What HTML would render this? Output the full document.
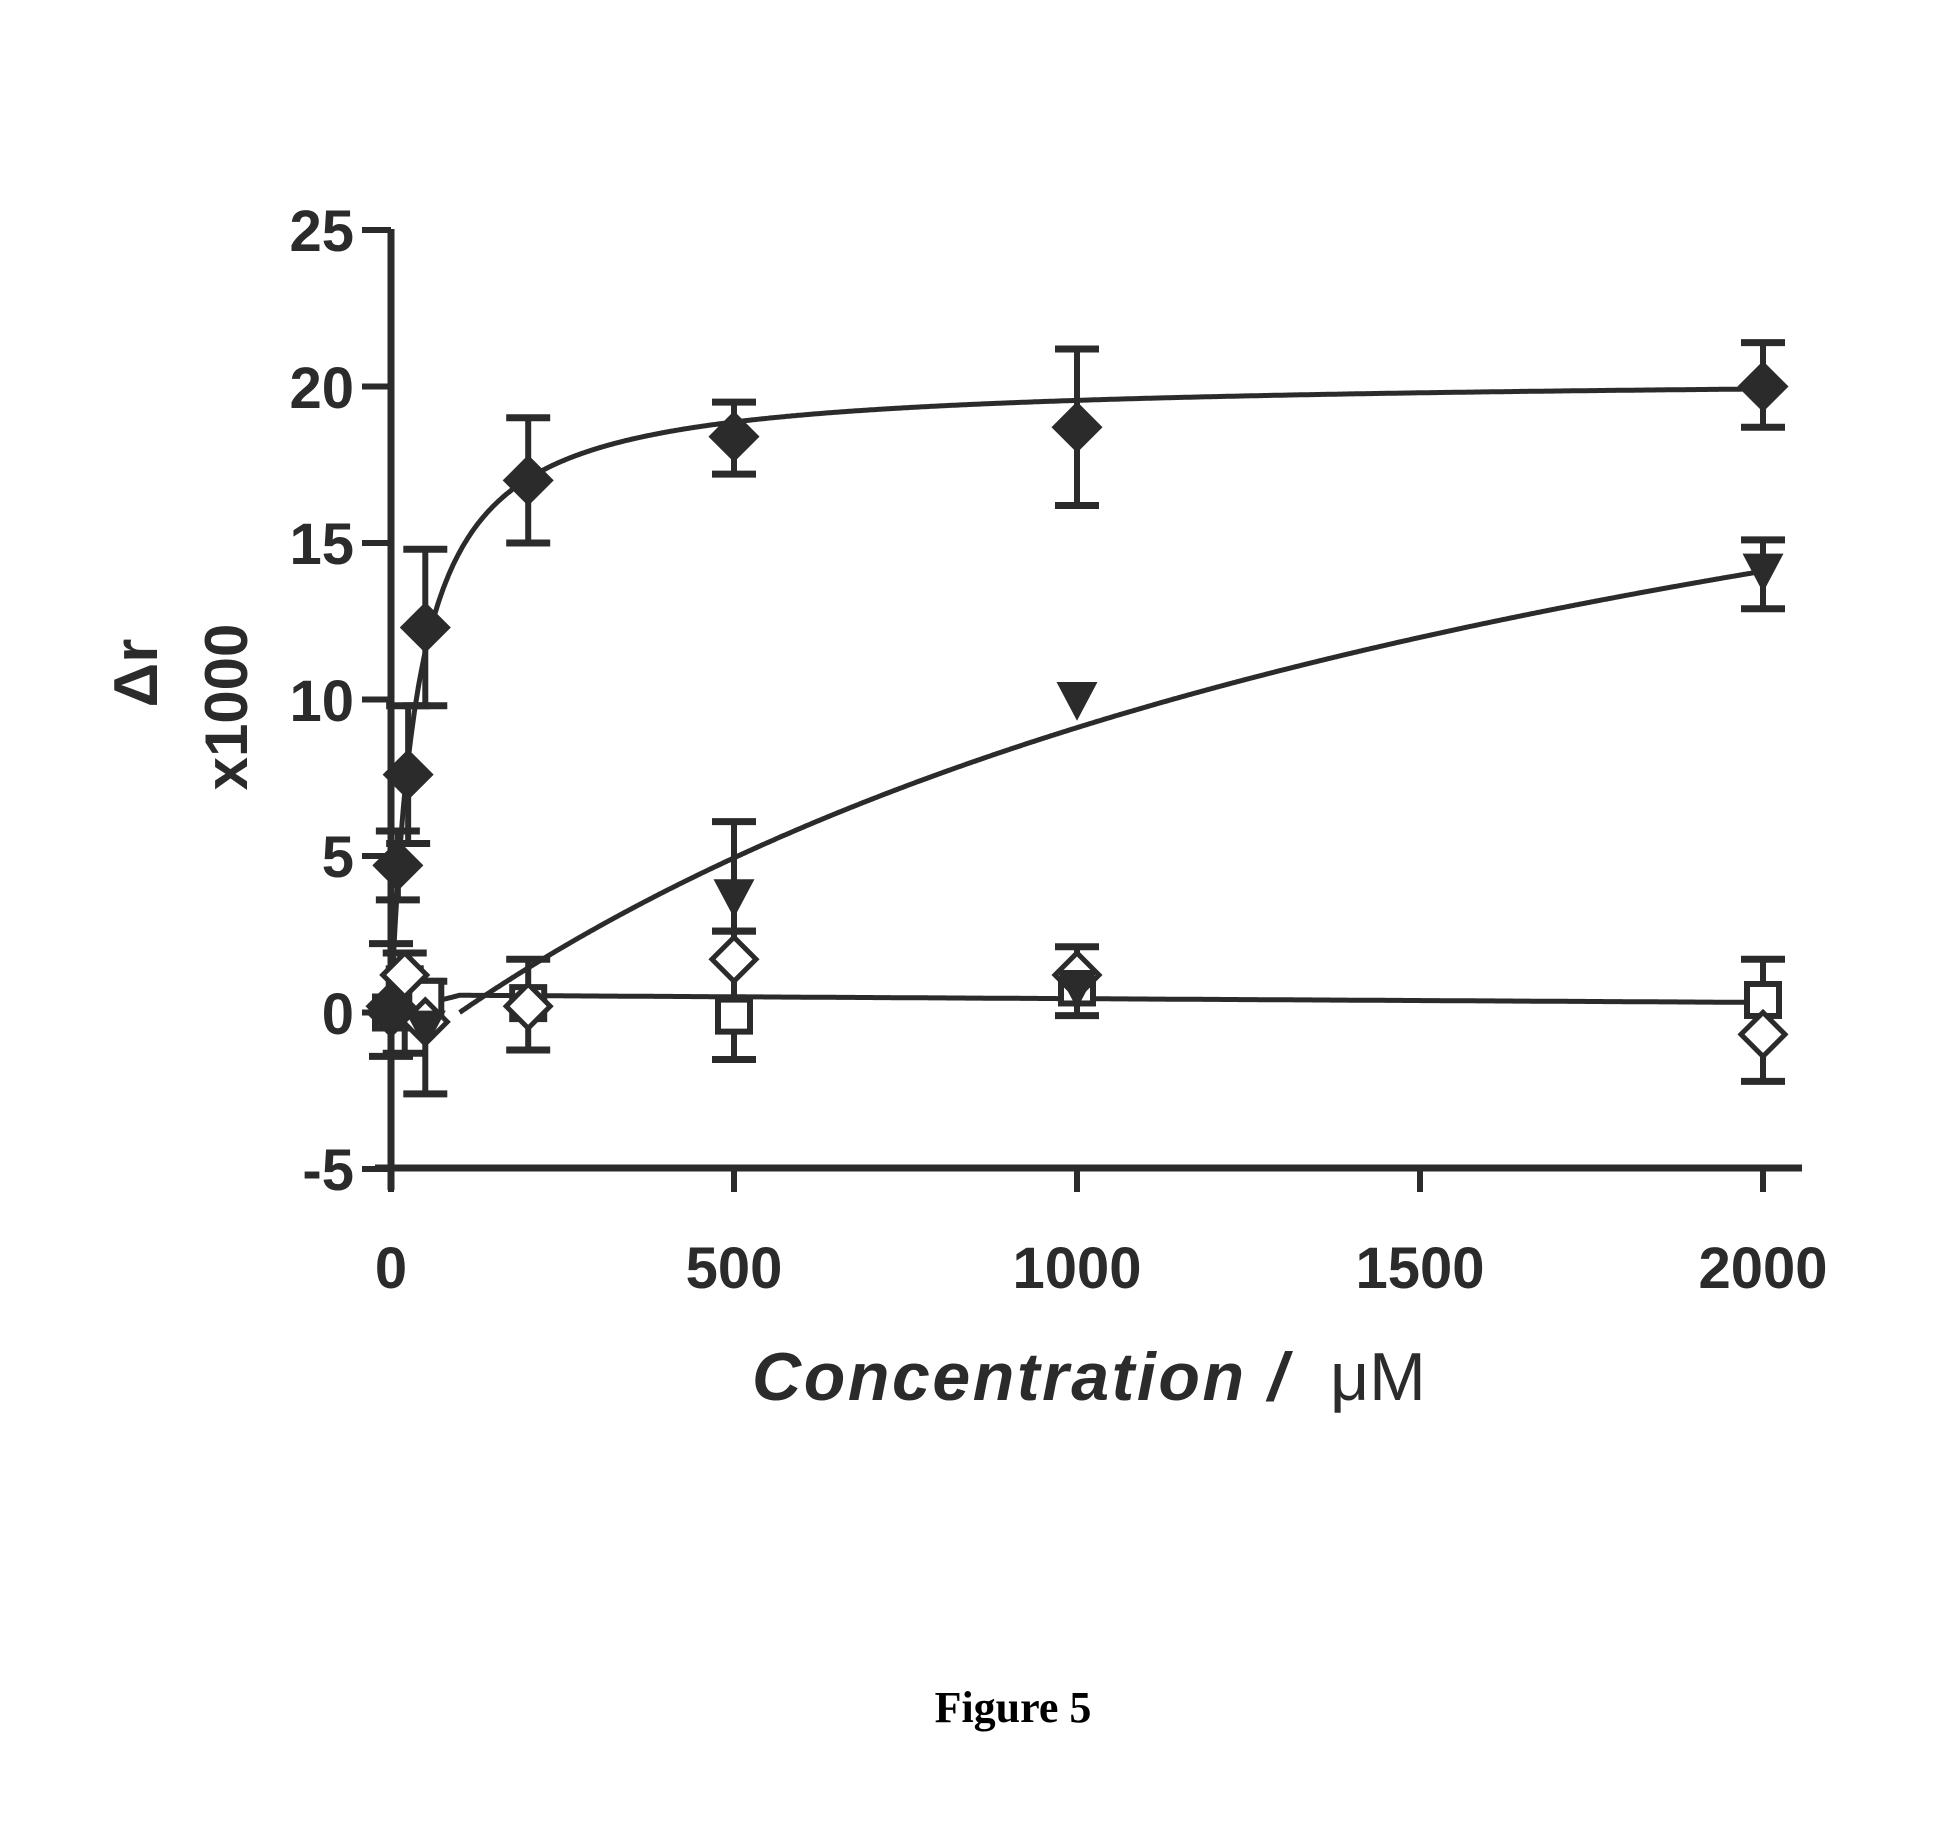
<!DOCTYPE html>
<html><head><meta charset="utf-8"><style>
html,body{margin:0;padding:0;background:#fff;}
svg{display:block;}
</style></head><body>
<svg id="s" width="1933" height="1825" xmlns="http://www.w3.org/2000/svg">
<rect width="1933" height="1825" fill="#fff"/>
<g id="g" stroke="#2b2b2b" fill="none" stroke-width="6"></g>
<g font-family="Liberation Sans, Arial, sans-serif" font-weight="bold" fill="#2b2b2b" font-size="58">
<text x="354" y="251" text-anchor="end">25</text>
<text x="354" y="408" text-anchor="end">20</text>
<text x="354" y="564" text-anchor="end">15</text>
<text x="354" y="721" text-anchor="end">10</text>
<text x="354" y="877" text-anchor="end">5</text>
<text x="354" y="1034" text-anchor="end">0</text>
<text x="354" y="1190" text-anchor="end">-5</text>
<text x="391" y="1288" text-anchor="middle">0</text>
<text x="734" y="1288" text-anchor="middle">500</text>
<text x="1077" y="1288" text-anchor="middle">1000</text>
<text x="1420" y="1288" text-anchor="middle">1500</text>
<text x="1763" y="1288" text-anchor="middle">2000</text>
<text x="752" y="1400" font-size="68" font-style="italic" textLength="535">Concentration /</text>
<text x="1330" y="1400" font-size="68" font-weight="normal">μM</text>
<text transform="translate(157,673) rotate(-90)" text-anchor="middle" font-size="62">Δr</text>
<text transform="translate(247,707) rotate(-90)" text-anchor="middle" font-size="60">x1000</text>
</g>
<text x="1013" y="1722" text-anchor="middle" font-family="Liberation Serif, serif" font-weight="bold" font-size="44" fill="#000">Figure 5</text>
</svg>
<script>
const g=document.getElementById('g');
const X=v=>391+v*0.686, Y=v=>1012.5-v*31.3;
function el(t,a){const e=document.createElementNS('http://www.w3.org/2000/svg',t);for(const k in a)e.setAttribute(k,a[k]);g.appendChild(e);return e;}
function line(x1,y1,x2,y2,w){el('line',{x1,y1,x2,y2,'stroke-width':w||6});}
line(391,229,391,1190,7); line(375,1168,1802,1168,7);
[25,20,15,10,5,0,-5].forEach(v=>line(362,Y(v),391,Y(v),6));
[0,500,1000,1500,2000].forEach(v=>line(X(v),1168,X(v),1192,6));
function curve(f,a,b){let d='';for(let v=a;v<=b;v+=2){d+=(d?'L':'M')+X(v).toFixed(1)+','+Y(f(v)).toFixed(1);}el('path',{d,'stroke-width':5});}
curve(v=>20.3*v/(v+38),0,2000);
curve(v=>27.88*(v-100)/(v-100+1857),100,2000);
curve(v=>v<100?0.55*v/100:0.55-0.00012*(v-100),0,2000);
function eb(x,y,lo,hi){const px=X(x);line(px,Y(lo),px,Y(hi),6);line(px-22,Y(lo),px+22,Y(lo),7);line(px-22,Y(hi),px+22,Y(hi),7);}
function dia(x,y,fill){const px=X(x),py=Y(y),r=22;el('path',{d:`M${px},${py-r}L${px+r},${py}L${px},${py+r}L${px-r},${py}Z`,fill:fill?'#2b2b2b':'#fff','stroke-width':5});}
function sq(x,y){const px=X(x),py=Y(y);el('rect',{x:px-16,y:py-16,width:32,height:32,fill:'#fff','stroke-width':6});}
function tri(x,y){const px=X(x),py=Y(y);el('path',{d:`M${px-18},${py-16}L${px+18},${py-16}L${px},${py+18}Z`,fill:'#2b2b2b','stroke-width':3});}
eb(10,4.7,3.6,5.8);eb(25,7.6,5.4,9.8);eb(50,12.3,9.8,14.8);eb(200,17,15,19);eb(500,18.4,17.2,19.5);eb(1000,18.7,16.2,21.2);eb(2000,20,18.7,21.4);
eb(500,3.7,2.6,6.1);eb(2000,14.1,12.9,15.1);
eb(200,0.3,-1.2,1.7);eb(500,1.7,-1.5,2.6);eb(1000,1.2,-0.1,2.1);eb(2000,0,-2.2,1.7);
eb(0,0,-1.4,2.2);eb(20,0.5,-1.3,1.9);eb(50,-0.6,-2.6,1);
sq(0,0);sq(20,0.9);sq(50,0.5);sq(200,0.3);sq(500,-0.1);sq(1000,0.8);sq(2000,0.4);
dia(0,0.2,false);dia(20,1.2,false);dia(50,-0.3,false);dia(200,0.2,false);dia(500,1.7,false);dia(1000,1.2,false);dia(2000,-0.7,false);
tri(50,-0.5);tri(500,3.7);tri(1000,10);tri(2000,14.1);tri(1000,0.8);
dia(0,0,true);dia(10,4.7,true);dia(25,7.6,true);dia(50,12.3,true);dia(200,17,true);dia(500,18.4,true);dia(1000,18.7,true);dia(2000,20,true);
</script>
</body></html>
